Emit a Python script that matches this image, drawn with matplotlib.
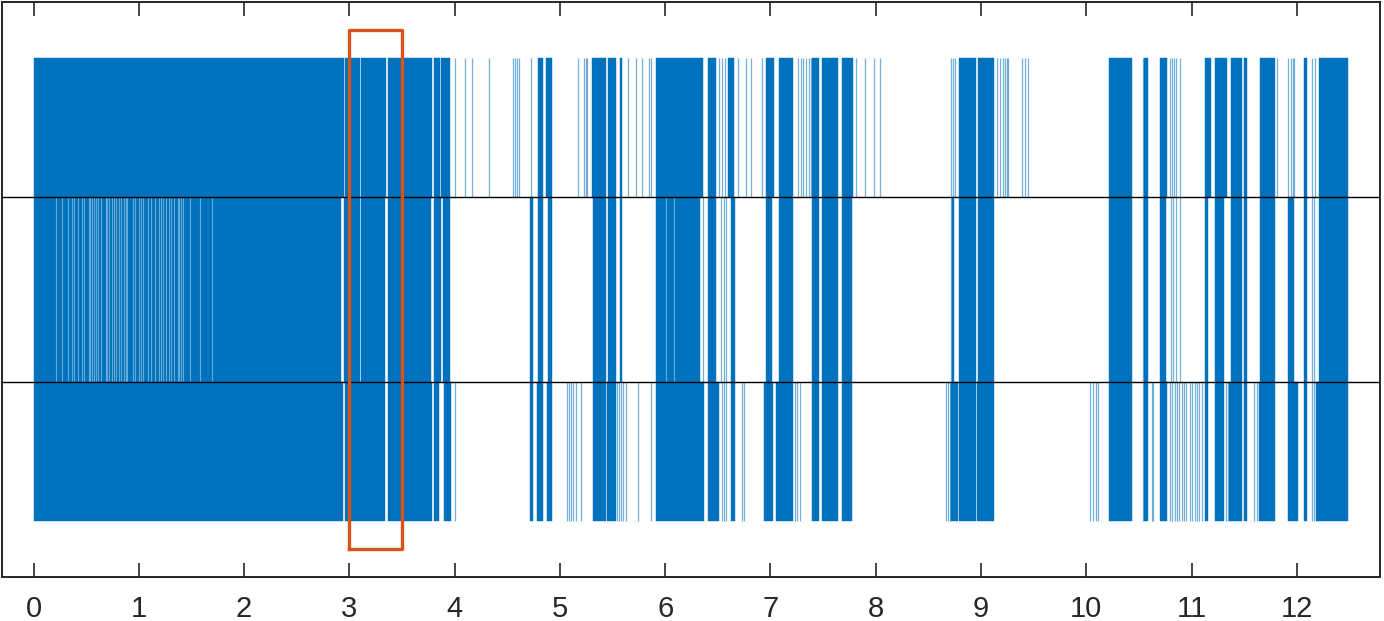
import matplotlib
matplotlib.use("Agg")
import matplotlib.pyplot as plt

plt.rcParams['font.family'] = ['Liberation Sans', 'DejaVu Sans']

BLUE = "#0072BD"
RED = "#D95319"

# band levels of the signal (top, middle, bottom rows)
levels = [1.0, 0.4, -0.4, -1.0]
thresholds = [0.4, -0.4]

# ---- top band: solid spans (start, end) and thin single lines ----
top_spans = [(0, 2.945), (2.955, 3.097), (3.111, 3.344), (3.369, 3.787), (3.800, 3.862),
             (3.871, 3.958), (4.788, 4.838), (4.864, 4.924), (5.301, 5.440), (5.453, 5.528),
             (5.573, 5.592), (5.915, 6.358), (6.403, 6.479), (6.593, 6.650), (6.960, 7.032),
             (7.080, 7.213), (7.397, 7.460), (7.492, 7.644), (7.675, 7.783), (8.790, 8.948),
             (8.967, 9.119), (10.215, 10.437), (10.550, 10.582), (10.696, 10.766),
             (11.127, 11.187), (11.219, 11.336), (11.377, 11.475), (11.497, 11.526),
             (11.653, 11.792), (12.067, 12.099), (12.210, 12.490)]
top_lines = [4.002, 4.094, 4.167, 4.325, 4.553, 4.569, 4.588, 4.610, 4.728, 5.170, 5.225,
             5.244, 5.260, 5.645, 5.719, 5.776, 5.845, 5.868, 6.507, 6.536, 6.564, 6.690,
             6.763, 6.814, 6.922, 7.260, 7.286, 7.313, 7.339, 7.362, 7.388, 7.808, 7.900,
             7.986, 8.039, 8.711, 8.730, 8.749, 9.151, 9.176, 9.205, 9.224, 9.248, 9.259,
             9.385, 9.414, 9.442, 10.534, 10.791, 10.810, 10.829, 10.855, 10.886, 11.815,
             11.915, 11.945, 11.965, 11.975, 12.140, 12.169]

# ---- middle band ----
mid_spans = [(0, 2.923), (2.951, 3.097), (3.109, 3.334), (3.369, 3.771), (3.803, 3.869),
             (3.888, 3.958), (4.718, 4.743), (4.788, 4.838), (4.889, 4.921), (5.313, 5.440),
             (5.453, 5.528), (5.573, 5.592), (5.915, 6.333), (6.403, 6.485), (6.621, 6.659),
             (6.954, 7.017), (7.080, 7.213), (7.393, 7.460), (7.492, 7.644), (7.675, 7.777),
             (8.720, 8.745), (8.790, 8.948), (8.973, 9.126), (10.215, 10.437),
             (10.550, 10.589), (10.696, 10.760), (11.127, 11.159), (11.219, 11.304),
             (11.377, 11.475), (11.501, 11.526), (11.653, 11.792), (11.915, 11.976),
             (12.067, 12.099), (12.210, 12.490)]
mid_lines = [6.360, 6.529, 6.555, 6.580, 8.711, 10.534, 10.800, 10.819, 10.848, 10.886,
             12.140, 12.162]
# lighter gaps inside the dense middle block
mid_gaps = [0.209, 0.266, 0.326, 0.364, 0.380, 0.421, 0.459, 0.478, 0.526, 0.538, 0.557,
            0.570, 0.589, 0.614, 0.643, 0.684, 0.697, 0.716, 0.741, 0.760, 0.779, 0.807,
            0.833, 0.855, 0.874, 0.890, 0.944, 0.959, 1.001, 1.019, 1.038, 1.090, 1.118,
            1.149, 1.191, 1.209, 1.232, 1.260, 1.282, 1.308, 1.330, 1.368, 1.380, 1.396,
            1.422, 1.489, 1.577, 1.698, 6.010, 6.080]

# ---- bottom band ----
bot_spans = [(0, 2.938), (2.957, 3.337), (3.369, 3.787), (3.803, 3.850), (3.895, 3.964),
             (4.718, 4.747), (4.785, 4.838), (4.876, 4.924), (5.313, 5.440), (5.450, 5.528),
             (5.915, 6.371), (6.403, 6.510), (6.621, 6.659), (6.940, 7.023), (7.055, 7.213),
             (7.390, 7.460), (7.492, 7.644), (7.675, 7.777), (8.711, 8.780), (8.790, 8.948),
             (8.961, 9.126), (10.215, 10.437), (10.550, 10.589), (10.696, 10.766),
             (11.127, 11.159), (11.219, 11.304), (11.360, 11.475), (11.501, 11.526),
             (11.640, 11.792), (11.915, 12.010), (12.067, 12.099), (12.185, 12.490)]
bot_lines = [4.002, 5.066, 5.082, 5.101, 5.123, 5.155, 5.199, 5.541, 5.560, 5.576, 5.598,
             5.630, 5.744, 5.868, 6.536, 6.555, 6.580, 6.725, 6.751, 7.232, 7.253, 7.277,
             8.663, 8.682, 8.701, 10.038, 10.060, 10.088, 10.114, 10.534, 10.620, 10.633,
             10.798, 10.817, 10.842, 10.861, 10.880, 10.905, 10.924, 10.950, 10.981, 11.007,
             11.032, 11.051, 11.070, 11.095, 11.330, 11.345, 11.589, 11.620, 12.140, 12.162]

# highlighted window
win_x = (3.0, 3.5)
win_y = (-1.12, 1.12)

xticks = list(range(0, 13))

fig = plt.figure(figsize=(13.84, 6.21), dpi=100)
ax = fig.add_axes([2 / 1384, 1 - 577 / 621, 1378 / 1384, 575 / 621])

bands = [(top_spans, top_lines, levels[1], levels[0]),
         (mid_spans, mid_lines, levels[2], levels[1]),
         (bot_spans, bot_lines, levels[3], levels[2])]
for spans, lines, lo, hi in bands:
    ax.broken_barh([(s, e - s) for s, e in spans], (lo, hi - lo),
                   facecolors=BLUE, edgecolor=BLUE, linewidth=0.3)
    ax.vlines(lines, lo, hi, colors=BLUE, linewidth=0.9, alpha=0.55)

ax.vlines(mid_gaps, levels[2], levels[1], colors="white", linewidth=0.8, alpha=0.4)

for t in thresholds:
    ax.axhline(t, color="black", linewidth=1.0, zorder=3)

ax.plot([win_x[0], win_x[1], win_x[1], win_x[0], win_x[0]],
        [win_y[0], win_y[0], win_y[1], win_y[1], win_y[0]],
        color=RED, linewidth=2.4, zorder=4)

ax.set_xlim(-0.30, 12.79)
ax.set_ylim(-1.24, 1.24)
ax.set_xticks(xticks)
ax.set_yticks([])
ax.tick_params(axis='x', direction='in', length=10, width=1.2, top=True,
               labelsize=21, pad=13, colors='#262626')
for sp in ax.spines.values():
    sp.set_linewidth(1.4)
    sp.set_color('#262626')

fig.savefig("out.png", dpi=100)
